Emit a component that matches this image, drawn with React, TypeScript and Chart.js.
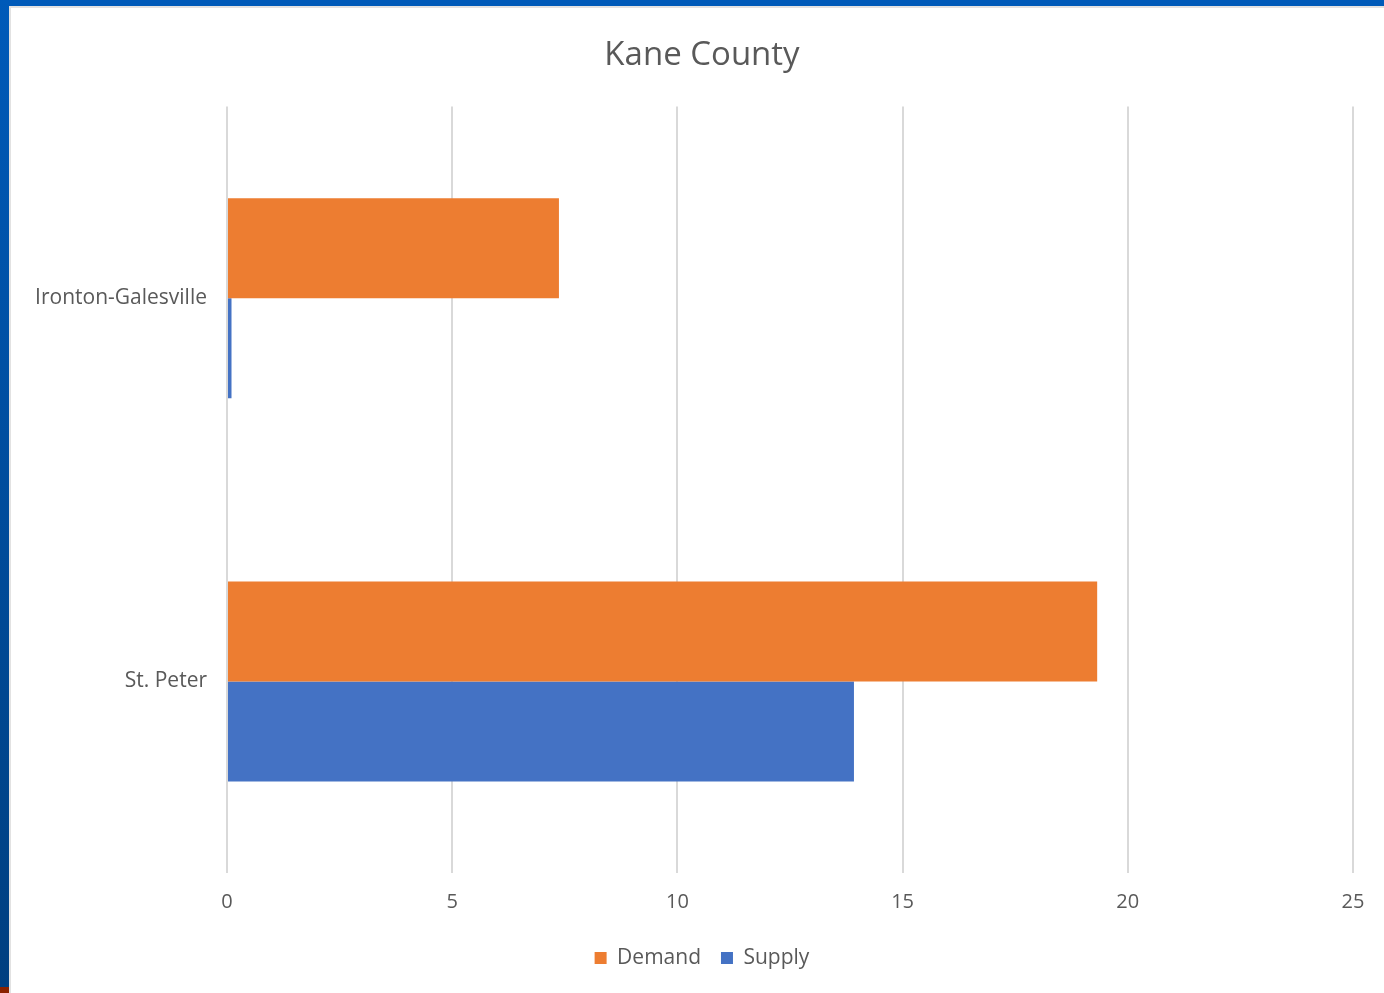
import React, { useEffect, useRef } from "react";
import { Chart, registerables } from "chart.js";

Chart.register(...registerables);

const categories = ["Ironton-Galesville", "St. Peter"];
const demandValues = [7.37, 19.32];
const supplyValues = [0.1, 13.92];
const xTicks = [0, 5, 10, 15, 20, 25];
const titleText = "Kane County";

const FONT = "'Open Sans', 'Noto Sans', sans-serif";
const TEXT = "#595959";

export default function App() {
  const ref = useRef<HTMLCanvasElement | null>(null);

  useEffect(() => {
    if (!ref.current) return;
    const chart = new Chart(ref.current, {
      type: "bar",
      data: {
        labels: categories,
        datasets: [
          {
            label: "Demand",
            data: demandValues,
            backgroundColor: "#ED7D31",
            borderWidth: 0,
            categoryPercentage: 0.522,
            barPercentage: 1,
          },
          {
            label: "Supply",
            data: supplyValues,
            backgroundColor: "#4472C4",
            borderWidth: 0,
            categoryPercentage: 0.522,
            barPercentage: 1,
          },
        ],
      },
      options: {
        indexAxis: "y",
        animation: false,
        responsive: false,
        maintainAspectRatio: false,
        devicePixelRatio: 1,
        layout: { padding: { left: 20, top: 6, right: 0, bottom: 14.5 } },
        plugins: {
          title: {
            display: true,
            text: titleText,
            color: TEXT,
            font: { family: FONT, size: 33, weight: "normal" },
            padding: { top: 30, bottom: 31 },
          },
          legend: {
            position: "bottom",
            labels: {
              color: TEXT,
              font: { family: FONT, size: 21 },
              boxWidth: 12,
              boxHeight: 12,
              padding: 20,
            },
          },
          tooltip: { enabled: false },
        },
        scales: {
          x: {
            min: 0,
            max: 25,
            afterBuildTicks: (axis: any) => {
              axis.ticks = xTicks.map((v) => ({ value: v }));
            },
            afterFit: (axis: any) => {
              axis.height = 54.5;
            },
            grid: { color: "#D9D9D9", lineWidth: 2, drawTicks: false },
            border: { display: false },
            ticks: {
              color: TEXT,
              font: { family: FONT, size: 20 },
              padding: 17,
            },
          },
          y: {
            afterFit: (axis: any) => {
              axis.width = 207;
            },
            grid: { display: false, drawTicks: false },
            border: { display: false },
            ticks: {
              color: TEXT,
              font: { family: FONT, size: 21 },
              padding: 20,
            },
          },
          yRight: {
            type: "linear",
            position: "right",
            display: true,
            afterFit: (axis: any) => {
              axis.width = 31;
            },
            grid: { display: false, drawTicks: false },
            border: { display: false },
            ticks: { display: false },
          },
        },
      },
    });
    return () => chart.destroy();
  }, []);

  return (
    <div style={{ position: "absolute", left: 0, top: 0, width: 1384, height: 993, background: "#fff", overflow: "hidden" }}>
      <canvas ref={ref} width={1384} height={993} style={{ position: "absolute", left: 0, top: 0, width: 1384, height: 993 }} />
      <div style={{ position: "absolute", left: 0, top: 0, width: 1384, height: 6, background: "#005AB9" }} />
      <div style={{ position: "absolute", left: 9, top: 6, width: 1375, height: 2, background: "#E2E2E2" }} />
      <div style={{ position: "absolute", left: 9, top: 6, width: 2, height: 987, background: "#E2E2E2" }} />
      <div style={{ position: "absolute", left: 0, top: 0, width: 9, height: 987, background: "linear-gradient(#005AB9, #003F80)" }} />
      <div style={{ position: "absolute", left: 0, top: 987, width: 9, height: 6, background: "#8A2200" }} />
    </div>
  );
}
